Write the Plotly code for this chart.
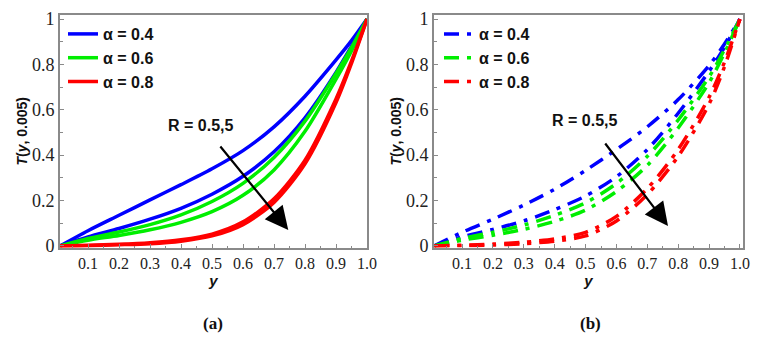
import plotly.graph_objects as go
from plotly.subplots import make_subplots

# ── Data ──────────────────────────────────────────────────────────────────────
Y_POS = [0.01, 0.1, 0.2, 0.3, 0.4, 0.5, 0.6, 0.7, 0.8, 0.9, 0.95, 1.0]
ALPHA_LABELS = ["<b>α = 0.4</b>", "<b>α = 0.6</b>", "<b>α = 0.8</b>"]
X_TICKS = [0.1, 0.2, 0.3, 0.4, 0.5, 0.6, 0.7, 0.8, 0.9, 1.0]
Y_TICKS = [0, 0.2, 0.4, 0.6, 0.8, 1]
Y_TICKTEXT = ["0", "0.2", "0.4", "0.6", "0.8", "1"]

# panel (a): solid lines, R = 0.5 (upper) and R = 5 (lower) per alpha
A_BLUE_R05 = [0.0, 0.067, 0.135, 0.203, 0.27, 0.34, 0.42, 0.525, 0.66, 0.82, 0.905, 1.0]
A_BLUE_R5 = [0.0, 0.04, 0.077, 0.118, 0.166, 0.228, 0.307, 0.415, 0.565, 0.765, 0.88, 1.0]
A_GREEN_R05 = [0.0, 0.033, 0.061, 0.094, 0.137, 0.196, 0.276, 0.39, 0.55, 0.76, 0.875, 1.0]
A_GREEN_R5 = [0.0, 0.025, 0.046, 0.071, 0.104, 0.151, 0.223, 0.335, 0.505, 0.735, 0.86, 1.0]
A_RED_R05 = [0.0, 0.003, 0.007, 0.014, 0.027, 0.052, 0.106, 0.208, 0.378, 0.648, 0.815, 1.0]
A_RED_R5 = [0.0, 0.001, 0.005, 0.01, 0.021, 0.044, 0.094, 0.192, 0.362, 0.632, 0.805, 1.0]

# panel (b): dash-dot lines
B_BLUE_R05 = [0.0, 0.06, 0.118, 0.18, 0.25, 0.333, 0.425, 0.525, 0.645, 0.795, 0.89, 1.0]
B_BLUE_R5 = [0.0, 0.04, 0.073, 0.11, 0.16, 0.22, 0.305, 0.425, 0.585, 0.77, 0.875, 1.0]
B_GREEN_R05 = [0.0, 0.033, 0.06, 0.092, 0.135, 0.19, 0.275, 0.395, 0.555, 0.745, 0.865, 1.0]
B_GREEN_R5 = [0.0, 0.025, 0.047, 0.073, 0.108, 0.158, 0.24, 0.355, 0.52, 0.72, 0.85, 1.0]
B_RED_R05 = [0.0, 0.003, 0.008, 0.016, 0.031, 0.06, 0.13, 0.253, 0.425, 0.655, 0.81, 1.0]
B_RED_R5 = [0.0, 0.001, 0.004, 0.01, 0.021, 0.044, 0.11, 0.227, 0.395, 0.625, 0.79, 1.0]

COLOURS = ["#0000FF", "#00EE00", "#FF0000"]
AXIS_GREY = "#8A8A8A"
DASHDOT = "15px,8px,4px,8px"
SANS = "Liberation Sans"
SERIF = "Liberation Serif"

# the page body has an 8px margin, so the figure is sized to the visible area
W, H, PAD = 765, 335, 8


def px_x(s):
    """screen x (px) -> paper fraction"""
    return (s - PAD) / W


def px_y(s):
    """screen y (px) -> paper fraction"""
    return 1 - (s - PAD) / H


panels = [
    ([(A_BLUE_R05, A_BLUE_R5), (A_GREEN_R05, A_GREEN_R5), (A_RED_R05, A_RED_R5)], "solid", "legend"),
    ([(B_BLUE_R05, B_BLUE_R5), (B_GREEN_R05, B_GREEN_R5), (B_RED_R05, B_RED_R5)], DASHDOT, "legend2"),
]

fig = make_subplots(rows=1, cols=2)

for col, (curves, dash, legend) in enumerate(panels, start=1):
    for i, (upper, lower) in enumerate(curves):
        for j, vals in enumerate((upper, lower)):
            fig.add_trace(
                go.Scatter(
                    x=Y_POS,
                    y=vals,
                    mode="lines",
                    name=ALPHA_LABELS[i],
                    line=dict(color=COLOURS[i], width=3.5, dash=dash, shape="spline", smoothing=0.8),
                    showlegend=(j == 0),
                    legend=legend,
                    legendgroup=f"{legend}-{i}",
                ),
                row=1, col=col,
            )

# ── Layout ────────────────────────────────────────────────────────────────────
legend_style = dict(
    xanchor="left", yanchor="top", bgcolor="rgba(0,0,0,0)",
    font=dict(size=16, family=SANS, color="#111111"),
    itemwidth=30, tracegroupgap=0,
)
fig.update_layout(
    width=W,
    height=H,
    margin=dict(l=0, r=0, t=0, b=0),
    paper_bgcolor="white",
    plot_bgcolor="white",
    font=dict(family=SANS, color="#111111"),
    xaxis=dict(domain=[px_x(60), px_x(367)]),
    xaxis2=dict(domain=[px_x(434), px_x(743)]),
    legend=dict(x=px_x(63), y=px_y(17), **legend_style),
    legend2=dict(x=px_x(439), y=px_y(17), **legend_style),
)

x_ranges = [[0.0096, 1.0], [0.009, 1.01]]
for col in (1, 2):
    fig.update_xaxes(
        range=x_ranges[col - 1],
        tickvals=X_TICKS,
        tickformat=".1f",
        ticks="inside", ticklen=4, tickcolor=AXIS_GREY,
        minor=dict(ticks="inside", dtick=0.05, tick0=0, ticklen=2, tickcolor=AXIS_GREY),
        showline=True, linecolor=AXIS_GREY, linewidth=2, mirror=True,
        showgrid=False, zeroline=False,
        tickfont=dict(family=SERIF, size=16, color="#222222"),
        title=dict(text="<b><i>y</i></b>", font=dict(size=15, family=SANS), standoff=2),
        automargin=False,
        row=1, col=col,
    )
    fig.update_yaxes(
        domain=[px_y(247.5), px_y(15)],
        range=[-0.007, 1.018],
        tickvals=Y_TICKS,
        ticktext=Y_TICKTEXT,
        ticks="inside", ticklen=4, tickcolor=AXIS_GREY,
        minor=dict(ticks="inside", dtick=0.1, tick0=0, ticklen=3, tickcolor=AXIS_GREY),
        showline=True, linecolor=AXIS_GREY, linewidth=2, mirror=True,
        showgrid=False, zeroline=False,
        tickfont=dict(family=SERIF, size=18, color="#222222"),
        title=dict(text="<b><i>T</i>(<i>y</i>, 0.005)</b>", font=dict(size=14, family=SANS), standoff=1),
        automargin=False,
        row=1, col=col,
    )

# ── Annotations: R arrow and panel labels ─────────────────────────────────────
arrow_specs = [
    dict(xref="x", yref="y", text_x=0.462, text_y=0.529, tail=(0.523, 0.445), tip=(0.746, 0.0705)),
    dict(xref="x2", yref="y2", text_x=0.498, text_y=0.555, tail=(0.56, 0.458), tip=(0.767, 0.088)),
]
for spec in arrow_specs:
    fig.add_annotation(
        x=spec["text_x"], y=spec["text_y"], xref=spec["xref"], yref=spec["yref"],
        text="<b>R = 0.5,5</b>", showarrow=False,
        font=dict(size=16, family=SANS, color="#111111"),
    )
    fig.add_annotation(
        x=spec["tip"][0], y=spec["tip"][1], xref=spec["xref"], yref=spec["yref"],
        ax=spec["tail"][0], ay=spec["tail"][1], axref=spec["xref"], ayref=spec["yref"],
        text="", showarrow=True, arrowhead=2, arrowsize=2.1, arrowwidth=2.2, arrowcolor="#000000",
    )

for label, xc in (("(a)", 213), ("(b)", 590)):
    fig.add_annotation(
        x=px_x(xc), y=px_y(323), xref="paper", yref="paper",
        xanchor="center", yanchor="middle",
        text=f"<b>{label}</b>", showarrow=False,
        font=dict(size=17, family=SERIF, color="#111111"),
    )

fig.write_html("out.html")
